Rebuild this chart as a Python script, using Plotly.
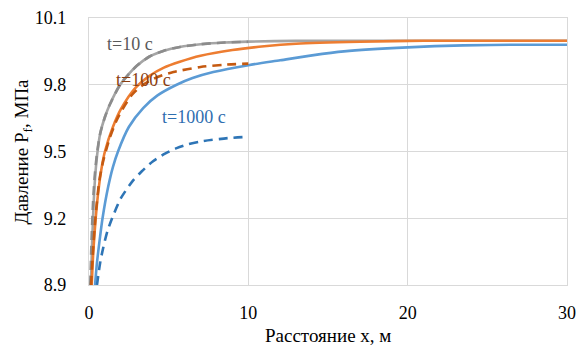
import plotly.graph_objects as go

# t = 10 c (solid / dashed)
x10 = [0.12, 0.2, 0.3, 0.4, 0.52, 0.7, 1.0, 1.3, 1.95, 2.4, 3.0, 3.8, 4.7, 5.7, 7, 8.5, 10, 13, 20, 30]
y10 = [8.9, 9.1, 9.28, 9.40, 9.49, 9.58, 9.655, 9.71, 9.8, 9.84, 9.885, 9.927, 9.953, 9.97, 9.982, 9.99, 9.994, 9.997, 9.998, 9.998]
x10d = [0.08, 0.16, 0.26, 0.37, 0.5, 0.7, 1.0, 1.3, 1.95, 2.4, 3.0, 3.8, 4.7, 5.7, 7, 8.5, 10]
y10d = [8.9, 9.1, 9.28, 9.40, 9.49, 9.58, 9.655, 9.71, 9.8, 9.84, 9.885, 9.927, 9.953, 9.97, 9.982, 9.99, 9.993]

# t = 100 c
x100 = [0.17, 0.27, 0.42, 0.6, 0.8, 1.0, 1.5, 2.0, 2.9, 3.8, 4.7, 5.7, 7, 9, 11, 13, 17, 21, 30]
y100 = [8.9, 9.05, 9.2, 9.33, 9.43, 9.5, 9.61, 9.69, 9.785, 9.84, 9.877, 9.903, 9.93, 9.956, 9.973, 9.984, 9.993, 9.998, 9.998]
x100d = [0.13, 0.25, 0.4, 0.65, 0.9, 1.3, 1.7, 2.1, 2.7, 3.3, 4.3, 5.3, 7.0, 8.5, 10]
y100d = [8.9, 9.05, 9.2, 9.37, 9.46, 9.56, 9.635, 9.69, 9.755, 9.795, 9.835, 9.857, 9.88, 9.89, 9.895]

# t = 1000 c
x1000 = [0.38, 0.5, 0.7, 0.85, 1.2, 1.5, 1.82, 2.5, 3.4, 4.3, 5.5, 6.5, 7.8, 10, 12, 14, 16, 20, 23.5, 27, 30]
y1000 = [8.9, 9.0, 9.12, 9.2, 9.34, 9.43, 9.5, 9.61, 9.695, 9.752, 9.80, 9.83, 9.857, 9.888, 9.91, 9.932, 9.95, 9.968, 9.977, 9.98, 9.98]
x1000d = [0.5, 0.7, 0.9, 1.15, 1.45, 2.0, 2.77, 3.3, 4.0, 4.77, 5.5, 6.2, 7.0, 8.7, 10]
y1000d = [8.9, 9.0, 9.07, 9.14, 9.2, 9.29, 9.37, 9.41, 9.455, 9.49, 9.515, 9.532, 9.545, 9.56, 9.566]

labels = ["t=10 c", "t=100 c", "t=1000 c"]
label_x = [2.6, 3.4, 6.6]
label_y = [9.983, 9.82, 9.654]
label_colors = ["#595959", "#8B3E0F", "#2E6EAF"]

xticks = [0, 10, 20, 30]
yticks = [8.9, 9.2, 9.5, 9.8, 10.1]
ytick_text = ["8.9", "9.2", "9.5", "9.8", "10.1"]

FONT = "Liberation Serif"

fig = go.Figure()
series = [
    (x10, y10, "#A5A5A5", "solid"),
    (x100, y100, "#ED7D31", "solid"),
    (x1000, y1000, "#5B9BD5", "solid"),
    (x10d, y10d, "#8C8C8C", "9px,6px"),
    (x100d, y100d, "#C55A11", "9px,6px"),
    (x1000d, y1000d, "#2E75B6", "9px,6px"),
]
for xs, ys, c, d in series:
    fig.add_trace(go.Scatter(x=xs, y=ys, mode="lines",
                             line=dict(color=c, width=2.6, dash=d, shape="spline", smoothing=0.7),
                             showlegend=False, hoverinfo="skip"))

for t, lx, ly, c in zip(labels, label_x, label_y, label_colors):
    fig.add_annotation(x=lx, y=ly, text=t, showarrow=False,
                       font=dict(family=FONT, size=18, color=c))

fig.add_annotation(xref="paper", yref="paper", x=0.5, y=-0.19, text="Расстояние х, м",
                   showarrow=False, xanchor="center", yanchor="middle",
                   font=dict(family=FONT, size=19, color="#000000"))
fig.add_annotation(xref="paper", yref="paper", x=-0.14, y=0.5, text="Давление P<sub>f</sub>, МПа",
                   showarrow=False, textangle=-90, xanchor="center", yanchor="middle",
                   font=dict(family=FONT, size=19, color="#000000"))

fig.update_layout(
    width=578, height=350,
    margin=dict(l=89, r=11, t=18, b=65),
    paper_bgcolor="white", plot_bgcolor="white",
    font=dict(family=FONT, size=18, color="#000000"),
)
fig.update_xaxes(range=[0, 30], tickvals=xticks, showgrid=True, gridcolor="#D9D9D9", gridwidth=1.3,
                 showline=True, linecolor="#D9D9D9", linewidth=1.3, mirror=True, zeroline=False,
                 ticks="", ticklabelstandoff=11, automargin=False,
                 tickfont=dict(family=FONT, size=18, color="#000000"))
fig.update_yaxes(range=[8.9, 10.1], tickvals=yticks, ticktext=ytick_text,
                 showgrid=True, gridcolor="#D9D9D9", gridwidth=1.3,
                 showline=True, linecolor="#D9D9D9", linewidth=1.3, mirror=True, zeroline=False,
                 ticks="", ticklabelstandoff=18, automargin=False,
                 tickfont=dict(family=FONT, size=18, color="#000000"))

fig.write_html("out.html", post_script="document.body.style.margin='0';",
               config={"displayModeBar": False})
